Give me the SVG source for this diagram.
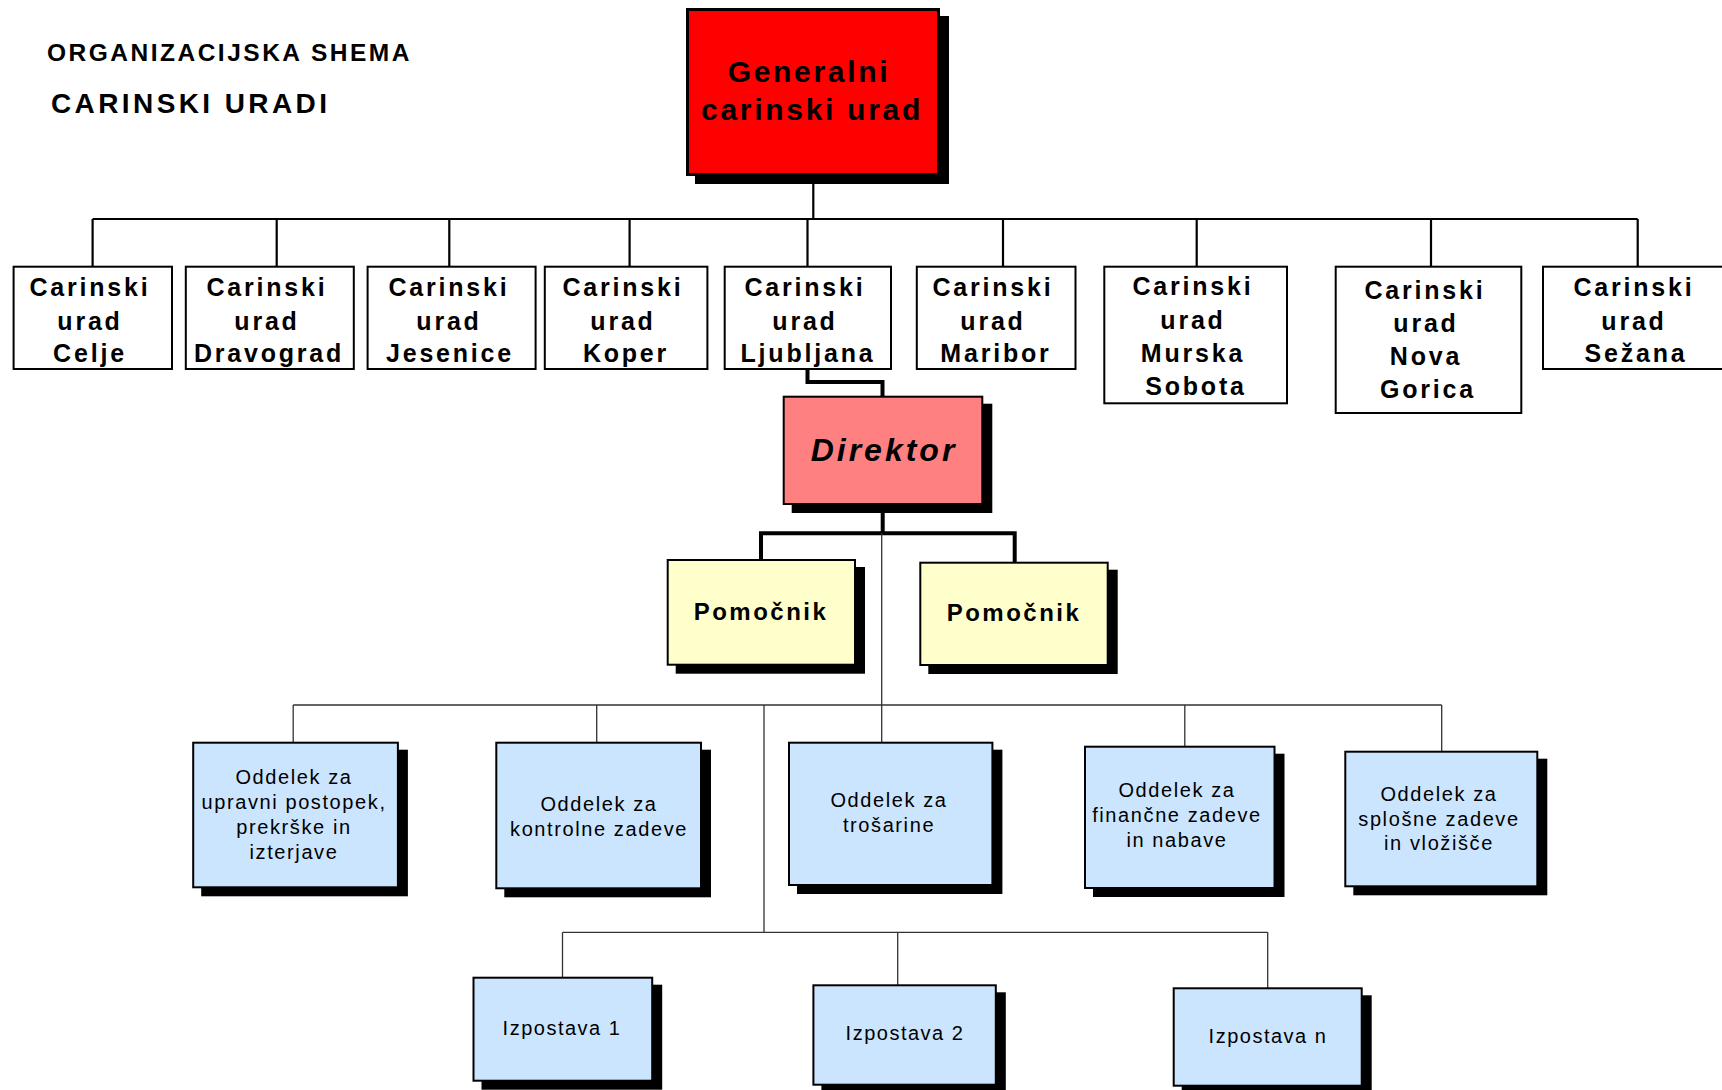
<svg xmlns="http://www.w3.org/2000/svg" width="1722" height="1090" viewBox="0 0 1722 1090">
<style>
text{font-family:"Liberation Sans",Arial,sans-serif;fill:#000;text-anchor:middle}
.title{font-weight:bold;text-anchor:start}
.cu rect{fill:#fff;stroke:#000;stroke-width:2}
.cu text{font-weight:bold;font-size:25px;letter-spacing:2.8px}
.sh{fill:#000}
.gen{fill:#ff0000;stroke:#000;stroke-width:3}
.dir{fill:#ff8080;stroke:#000;stroke-width:2}
.pom{fill:#ffffcc;stroke:#000;stroke-width:2}
.blue{fill:#cce5ff;stroke:#000;stroke-width:2}
.dept text{font-size:20px;letter-spacing:1.6px}
.izp text{font-size:20px;letter-spacing:1.5px}
.bus{fill:none;stroke:#000;stroke-width:2.2}
.thick{fill:none;stroke:#000;stroke-width:4}
.thin{fill:none;stroke:#333;stroke-width:1.3}
</style>

<text class="title" x="47" y="61" font-size="24.5" letter-spacing="2.5">ORGANIZACIJSKA SHEMA</text>
<text class="title" x="51" y="113" font-size="28" letter-spacing="3.4">CARINSKI URADI</text>

<g id="connectors">
  <path class="bus" d="M813.3 176V219M92.6 219H1637.7M92.6 219V266M276.7 219V266M449.3 219V266M629.6 219V266M807.5 219V266M1003 219V266M1196.7 219V266M1431 219V266M1637.7 219V266"/>
  <path class="thick" d="M807.5 370V382H882.5V397"/>
  <path class="thick" d="M882.7 505V533.3M761 533.3H1014.7M761 531.3V560M1014.7 531.3V562.7"/>
  <path class="thin" d="M881.7 533V742M293.2 705H1441.7M293.2 705V742M596.7 705V742M1184.8 705V746M1441.7 705V751M764 705V932.3M562.5 932.3H1267.7M562.5 932.3V977M897.7 932.3V985M1267.7 932.3V988"/>
</g>

<g id="generalni">
  <rect class="sh" x="695" y="16" width="254" height="168"/>
  <rect class="gen" x="687.5" y="9.5" width="251" height="165"/>
  <text x="809" y="82" font-size="30" font-weight="bold" letter-spacing="2.7">Generalni</text>
  <text x="812" y="120" font-size="30" font-weight="bold" letter-spacing="2.7">carinski urad</text>
</g>

<g id="cu-celje" class="cu">
  <rect x="13.6" y="266.7" width="158.4" height="102.3"/>
  <text x="90" y="296">Carinski</text><text x="90" y="329.5">urad</text><text x="90" y="362">Celje</text>
</g>
<g id="cu-dravograd" class="cu">
  <rect x="185.8" y="266.7" width="168" height="102.3"/>
  <text x="267" y="296">Carinski</text><text x="267" y="329.5">urad</text><text x="269" y="362">Dravograd</text>
</g>
<g id="cu-jesenice" class="cu">
  <rect x="367.6" y="266.7" width="168" height="102.3"/>
  <text x="449" y="296">Carinski</text><text x="449" y="329.5">urad</text><text x="450" y="362">Jesenice</text>
</g>
<g id="cu-koper" class="cu">
  <rect x="544.8" y="266.7" width="162.6" height="102.3"/>
  <text x="623" y="296">Carinski</text><text x="623" y="329.5">urad</text><text x="626" y="362">Koper</text>
</g>
<g id="cu-ljubljana" class="cu">
  <rect x="724.7" y="266.7" width="166.3" height="102.3"/>
  <text x="805" y="296">Carinski</text><text x="805" y="329.5">urad</text><text x="808" y="362">Ljubljana</text>
</g>
<g id="cu-maribor" class="cu">
  <rect x="916.8" y="266.7" width="158.7" height="102.3"/>
  <text x="993" y="296">Carinski</text><text x="993" y="329.5">urad</text><text x="996" y="362">Maribor</text>
</g>
<g id="cu-murska-sobota" class="cu">
  <rect x="1104.3" y="266.7" width="182.7" height="136.6"/>
  <text x="1193" y="295">Carinski</text><text x="1193" y="328.5">urad</text><text x="1193" y="361.5">Murska</text><text x="1196" y="394.5">Sobota</text>
</g>
<g id="cu-nova-gorica" class="cu">
  <rect x="1335.7" y="266.7" width="185.6" height="146.3"/>
  <text x="1425" y="299">Carinski</text><text x="1426" y="332">urad</text><text x="1426" y="365">Nova</text><text x="1428" y="398">Gorica</text>
</g>
<g id="cu-sezana" class="cu">
  <rect x="1543" y="266.7" width="185" height="102.3"/>
  <text x="1634" y="296">Carinski</text><text x="1634" y="329.5">urad</text><text x="1636" y="362">Sežana</text>
</g>

<g id="direktor">
  <rect class="sh" x="791.7" y="403.7" width="200.6" height="109.3"/>
  <rect class="dir" x="783.7" y="396.7" width="198.6" height="107.3"/>
  <text x="884" y="461" font-size="32" font-weight="bold" font-style="italic" letter-spacing="3">Direktor</text>
</g>

<g id="pomocnik-1">
  <rect class="sh" x="675.7" y="567" width="189.3" height="106.7"/>
  <rect class="pom" x="667.7" y="560" width="187.3" height="104.7"/>
  <text x="761" y="620" font-size="24" font-weight="bold" letter-spacing="2.5">Pomočnik</text>
</g>
<g id="pomocnik-2">
  <rect class="sh" x="928.3" y="569.7" width="189.4" height="104.3"/>
  <rect class="pom" x="920.3" y="562.7" width="187.4" height="102.3"/>
  <text x="1014" y="621" font-size="24" font-weight="bold" letter-spacing="2.5">Pomočnik</text>
</g>

<g id="oddelek-upravni" class="dept">
  <rect class="sh" x="201.2" y="749.7" width="206.7" height="146.6"/>
  <rect class="blue" x="193.2" y="742.7" width="204.7" height="144.6"/>
  <text x="294" y="784">Oddelek za</text><text x="294" y="809">upravni postopek,</text><text x="294" y="834">prekrške in</text><text x="294" y="858.5">izterjave</text>
</g>
<g id="oddelek-kontrolne" class="dept">
  <rect class="sh" x="504.3" y="749.7" width="206.7" height="147.6"/>
  <rect class="blue" x="496.3" y="742.7" width="204.7" height="145.6"/>
  <text x="599" y="811">Oddelek za</text><text x="599" y="835.5">kontrolne zadeve</text>
</g>
<g id="oddelek-trosarine" class="dept">
  <rect class="sh" x="797" y="749.7" width="205.4" height="144.3"/>
  <rect class="blue" x="789" y="742.7" width="203.4" height="142.3"/>
  <text x="889" y="807">Oddelek za</text><text x="889" y="831.5">trošarine</text>
</g>
<g id="oddelek-financne" class="dept">
  <rect class="sh" x="1093" y="753.7" width="191.5" height="143.3"/>
  <rect class="blue" x="1085" y="746.7" width="189.5" height="141.3"/>
  <text x="1177" y="797">Oddelek za</text><text x="1177" y="822">finančne zadeve</text><text x="1177" y="847">in nabave</text>
</g>
<g id="oddelek-splosne" class="dept">
  <rect class="sh" x="1353.3" y="758.7" width="194" height="136.6"/>
  <rect class="blue" x="1345.3" y="751.7" width="192" height="134.6"/>
  <text x="1439" y="801">Oddelek za</text><text x="1439" y="825.5">splošne zadeve</text><text x="1439" y="850">in vložišče</text>
</g>

<g id="izpostava-1" class="izp">
  <rect class="sh" x="481.5" y="984.7" width="180.7" height="105"/>
  <rect class="blue" x="473.5" y="977.7" width="178.7" height="103"/>
  <text x="562" y="1035">Izpostava 1</text>
</g>
<g id="izpostava-2" class="izp">
  <rect class="sh" x="821.4" y="992.3" width="184.4" height="101.4"/>
  <rect class="blue" x="813.4" y="985.3" width="182.4" height="99.4"/>
  <text x="905" y="1040">Izpostava 2</text>
</g>
<g id="izpostava-n" class="izp">
  <rect class="sh" x="1181.7" y="995.3" width="190" height="99.4"/>
  <rect class="blue" x="1173.7" y="988.3" width="188" height="97.4"/>
  <text x="1268" y="1043">Izpostava n</text>
</g>
</svg>
